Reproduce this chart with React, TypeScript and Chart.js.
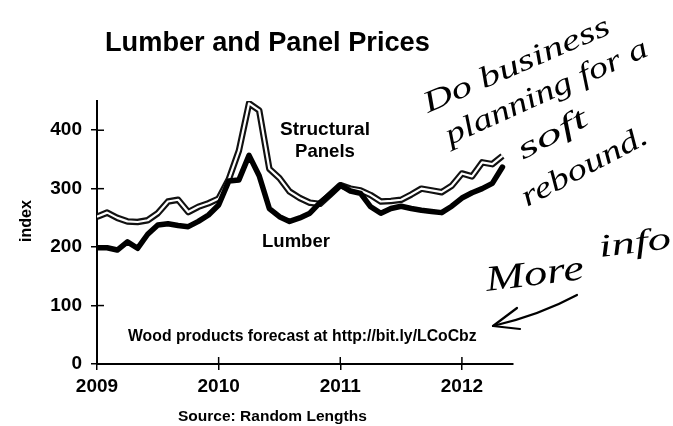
import React, { useEffect, useRef } from "react";
import { Chart, registerables } from "chart.js";

Chart.register(...registerables);

// Monthly index values, January 2009 through May 2012
const START_YEAR = 2009;
const lumber = [
  199, 199, 195, 209, 198, 222, 238, 240, 237, 235, 244, 255,
  272, 313, 315, 357, 322, 266, 252, 244, 250, 258, 276, 290,
  306, 296, 292, 269, 258, 266, 270, 266, 263, 261, 259, 270,
  284, 293, 300, 309, 337,
];
const panels = [
  252, 259, 250, 244, 243, 246, 258, 278, 281, 260, 269, 275,
  283, 316, 365, 446, 434, 334, 318, 295, 284, 276, 274, 290,
  306, 300, 297, 289, 278, 279, 281, 290, 300, 297, 294, 305,
  326, 321, 345, 342, 356,
];
const yearTicks = [2009, 2010, 2011, 2012];
const valueTicks = [0, 100, 200, 300, 400];

const TITLE = "Lumber and Panel Prices";
const Y_LABEL = "index";
const SOURCE = "Source: Random Lengths";
const NOTE = "Wood products forecast at http://bit.ly/LCoCbz";
const PANELS_LABEL = ["Structural", "Panels"];
const LUMBER_LABEL = "Lumber";
const HANDWRITING = ["Do business", "planning for a", "soft", "rebound."];
const MORE = ["More", "info"];

const SANS = "'Liberation Sans', Arial, sans-serif";
const HAND = "'Liberation Serif', 'DejaVu Serif', serif";

function toPoints(values: number[]) {
  return values.map((v, i) => ({ x: START_YEAR + i / 12, y: v }));
}

function fitText(
  ctx: CanvasRenderingContext2D,
  text: string,
  x0: number,
  x1: number,
  y: number,
  weight: string
) {
  ctx.font = `${weight} 20px ${SANS}`;
  const w = ctx.measureText(text).width;
  const size = (20 * (x1 - x0)) / w;
  ctx.font = `${weight} ${size}px ${SANS}`;
  ctx.textAlign = "left";
  ctx.textBaseline = "alphabetic";
  ctx.fillText(text, x0, y);
}

function handText(
  ctx: CanvasRenderingContext2D,
  text: string,
  x0: number,
  y0: number,
  x1: number,
  y1: number,
  size: number
) {
  ctx.save();
  ctx.font = `italic 400 ${size}px ${HAND}`;
  const w = ctx.measureText(text).width;
  const dist = Math.hypot(x1 - x0, y1 - y0);
  ctx.translate(x0, y0);
  ctx.rotate(Math.atan2(y1 - y0, x1 - x0));
  ctx.scale(dist / w, 1);
  ctx.textAlign = "left";
  ctx.textBaseline = "alphabetic";
  ctx.fillStyle = "#000";
  ctx.fillText(text, 0, 0);
  ctx.restore();
}

const overlay = {
  id: "overlay",
  afterDraw(chart: any) {
    const ctx: CanvasRenderingContext2D = chart.ctx;
    const { left, bottom } = chart.chartArea;
    const xs = chart.scales.x;
    const ys = chart.scales.y;
    ctx.save();
    // inner halves of the crossing tick marks
    ctx.strokeStyle = "#000";
    ctx.lineWidth = 1.5;
    valueTicks.forEach((v) => {
      const y = ys.getPixelForValue(v);
      ctx.beginPath();
      ctx.moveTo(left, y);
      ctx.lineTo(left + 7, y);
      ctx.stroke();
    });
    yearTicks.forEach((v) => {
      const x = xs.getPixelForValue(v);
      ctx.beginPath();
      ctx.moveTo(x, bottom);
      ctx.lineTo(x, bottom - 7);
      ctx.stroke();
    });

    ctx.fillStyle = "#000";
    fitText(ctx, TITLE, 105, 430, 51, "bold");
    fitText(ctx, PANELS_LABEL[0], 280, 370, 135, "bold");
    fitText(ctx, PANELS_LABEL[1], 295, 355, 157, "bold");
    fitText(ctx, LUMBER_LABEL, 262, 330, 247, "bold");
    fitText(ctx, NOTE, 128, 477, 341, "bold");
    fitText(ctx, SOURCE, 178, 367, 421, "bold");

    // rotated axis title
    ctx.save();
    ctx.translate(31, 242);
    ctx.rotate(-Math.PI / 2);
    fitText(ctx, Y_LABEL, 0, 42, 0, "bold");
    ctx.restore();

    // handwritten notes
    handText(ctx, HANDWRITING[0], 428, 113, 612, 33, 30);
    handText(ctx, HANDWRITING[1], 450, 145, 650, 55, 30);
    handText(ctx, HANDWRITING[2], 523, 160, 590, 124, 30);
    handText(ctx, HANDWRITING[3], 527, 207, 650, 142, 30);
    handText(ctx, MORE[0], 487, 291, 585, 279, 36);
    handText(ctx, MORE[1], 600, 257, 672, 248, 32);

    // arrow
    ctx.strokeStyle = "#000";
    ctx.lineWidth = 2.2;
    ctx.lineCap = "round";
    ctx.lineJoin = "round";
    ctx.beginPath();
    ctx.moveTo(577, 295);
    ctx.quadraticCurveTo(540, 315, 493, 326);
    ctx.stroke();
    ctx.beginPath();
    ctx.moveTo(517, 308);
    ctx.lineTo(493, 326);
    ctx.lineTo(520, 329);
    ctx.stroke();
    ctx.restore();
  },
};

export default function App() {
  const ref = useRef<HTMLCanvasElement | null>(null);

  useEffect(() => {
    document.body.style.margin = "0";
    const canvas = ref.current;
    if (!canvas) return;
    const chart = new Chart(canvas, {
      type: "line",
      data: {
        datasets: [
          {
            label: "Lumber",
            data: toPoints(lumber),
            borderColor: "#000",
            borderWidth: 5.5,
            pointRadius: 0,
            tension: 0,
            borderJoinStyle: "round",
            borderCapStyle: "round",
          },
          {
            label: "Structural Panels (core)",
            data: toPoints(panels),
            borderColor: "#fff",
            borderWidth: 2.2,
            pointRadius: 0,
            tension: 0,
            borderJoinStyle: "round",
          },
          {
            label: "Structural Panels",
            data: toPoints(panels),
            borderColor: "#111",
            borderWidth: 6.5,
            pointRadius: 0,
            tension: 0,
            borderJoinStyle: "round",
          },
        ],
      },
      options: {
        animation: false,
        responsive: true,
        maintainAspectRatio: false,
        layout: { padding: { left: 0, right: 160, top: 101, bottom: 0 } },
        plugins: {
          legend: { display: false },
          tooltip: { enabled: false },
          title: { display: false },
        },
        scales: {
          x: {
            type: "linear",
            min: 2009,
            max: 2012.42,
            afterBuildTicks: (s: any) => {
              s.ticks = yearTicks.map((v) => ({ value: v }));
            },
            afterFit: (s: any) => {
              s.height = 62;
            },
            ticks: {
              color: "#000",
              padding: 5,
              maxRotation: 0,
              font: { family: SANS, size: 19, weight: "bold" },
              callback: (v: any) => String(v),
            },
            grid: {
              display: true,
              drawOnChartArea: false,
              drawTicks: true,
              tickLength: 6,
              color: "#000",
              lineWidth: 1.5,
            },
            border: { display: true, color: "#000", width: 2 },
          },
          y: {
            type: "linear",
            min: 0,
            max: 450,
            afterBuildTicks: (s: any) => {
              s.ticks = valueTicks.map((v) => ({ value: v }));
            },
            afterFit: (s: any) => {
              s.width = 97;
            },
            ticks: {
              color: "#000",
              padding: 9,
              font: { family: SANS, size: 19, weight: "bold" },
              callback: (v: any) => String(v),
            },
            grid: {
              display: true,
              drawOnChartArea: false,
              drawTicks: true,
              tickLength: 6,
              color: "#000",
              lineWidth: 1.5,
            },
            border: { display: true, color: "#000", width: 2 },
          },
        },
      },
      plugins: [overlay],
    });
    return () => chart.destroy();
  }, []);

  return (
    <div style={{ width: 673, height: 426, position: "relative", background: "#fff" }}>
      <canvas ref={ref} />
    </div>
  );
}
